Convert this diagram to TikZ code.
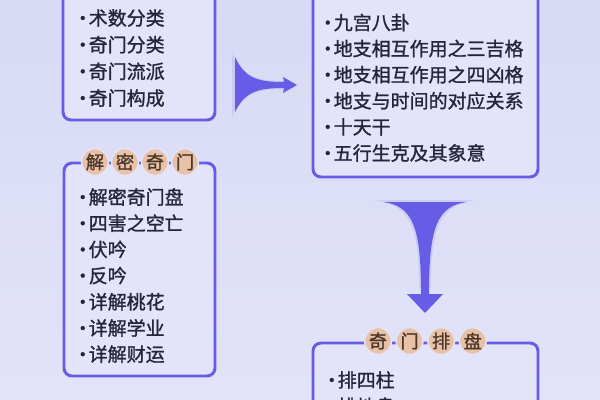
\documentclass[tikz,border=0pt]{standalone}
\usepackage{fontspec}
\setmainfont{Noto Sans CJK SC}
\newfontfamily\entryfont{Noto Sans CJK SC}[FakeBold=1.2]
\usetikzlibrary{positioning, calc}
\definecolor{bgtop}{HTML}{D8DAF6}
\definecolor{bgbot}{HTML}{E2E3F8}
\definecolor{boxfill}{HTML}{E3E4FA}
\definecolor{edgecol}{HTML}{665CE6}
\definecolor{beadcol}{HTML}{E8C2A8}
\definecolor{inkcol}{HTML}{25243A}
\definecolor{beadink}{HTML}{4B3628}
\newcommand{\dotitem}[1]{·\kern-2.5pt#1}
\tikzset{
  panel/.style={draw=edgecol, line width=2.1pt, fill=boxfill, rounded corners=2mm},
  entry/.style={anchor=west, inner sep=0pt, text=inkcol, font=\entryfont\fontsize{13.5}{16}\selectfont},
  bead/.style={circle, fill=beadcol, draw=boxfill, line width=1pt, minimum size=6.7mm,
    inner sep=0pt, text=beadink, font=\entryfont\fontsize{13}{15}\selectfont},
  funnel/.style={fill=edgecol, draw=none},
  haze/.style={fill=edgecol!45, draw=none, opacity=.45}
}

\begin{document}
\begin{tikzpicture}[x=0.25mm, y=-0.25mm]
    \useasboundingbox (0,0) rectangle (600,400);
    \shade[top color=bgtop, bottom color=bgbot] (0,0) rectangle (600,400);
    \begin{scope}
    \clip (0,0) rectangle (600,400);

    % top left panel
    \draw[panel] (63,-20) rectangle (215,120);
    \foreach \txt [count=\i] in {术数分类,奇门分类,奇门流派,奇门构成}
        \node[entry] (shu-\i) at (73, {18+26.7*(\i-1)}) {\dotitem{\txt}};

    % top right panel
    \draw[panel] (313,-20) rectangle (538,177);
    \foreach \txt [count=\i] in {九宫八卦,地支相互作用之三吉格,地支相互作用之四凶格,
        地支与时间的对应关系,十天干,五行生克及其象意}
        \node[entry] (gong-\i) at (318, {22.5+26.1*(\i-1)}) {\dotitem{\txt}};

    % bottom left panel
    \draw[panel] (64,163) rectangle (215,376);
    \foreach \ch [count=\i] in {解,密,奇,门}
        \node[bead] (jm-\i) at ({95+30*(\i-1)}, 162) {\ch};
    \foreach \txt [count=\i] in {解密奇门盘,四害之空亡,伏吟,反吟,详解桃花,详解学业,详解财运}
        \node[entry] (jie-\i) at (73, {197+26.2*(\i-1)}) {\dotitem{\txt}};

    % bottom right panel
    \draw[panel] (313,343) rectangle (538,440);
    \foreach \ch [count=\i] in {奇,门,排,盘}
        \node[bead] (pp-\i) at ({378+31.6*(\i-1)}, 341) {\ch};
    \foreach \txt [count=\i] in {排四柱,排地盘}
        \node[entry] (pai-\i) at (322, {380+26.2*(\i-1)}) {\dotitem{\txt}};

    % funnel arrows
    \coordinate (rgt) at (235,85);
    \coordinate (dwn) at (425,202);
    \fill[haze] ($(rgt)+(-3,-32)$) .. controls ($(rgt)+(8,-8)$) and ($(rgt)+(22,-4)$) .. ($(rgt)+(50,-4)$)
        -- ($(rgt)+(50,4)$) .. controls ($(rgt)+(22,4)$) and ($(rgt)+(8,8)$) .. ($(rgt)+(-3,32)$) -- cycle;
    \fill[funnel] ($(rgt)+(0,-28)$) .. controls ($(rgt)+(10,-7)$) and ($(rgt)+(22,-3)$) .. ($(rgt)+(49,-3)$)
        -- ($(rgt)+(48,-8)$) -- ($(rgt)+(62,0)$) -- ($(rgt)+(48,8)$) -- ($(rgt)+(49,3)$)
        .. controls ($(rgt)+(22,3)$) and ($(rgt)+(10,7)$) .. ($(rgt)+(0,27)$) -- cycle;
    \fill[haze] ($(dwn)+(-52,-2)$) .. controls ($(dwn)+(-15,2)$) and ($(dwn)+(-6,25)$) .. ($(dwn)+(-6,85)$)
        -- ($(dwn)+(6,85)$) .. controls ($(dwn)+(6,25)$) and ($(dwn)+(15,2)$) .. ($(dwn)+(52,-2)$) -- cycle;
    \fill[funnel] ($(dwn)+(-42,0)$) .. controls ($(dwn)+(-12,4)$) and ($(dwn)+(-4,25)$) .. ($(dwn)+(-4,92)$)
        -- ($(dwn)+(-18,92)$) -- ($(dwn)+(0,111)$) -- ($(dwn)+(18,92)$) -- ($(dwn)+(4,92)$)
        .. controls ($(dwn)+(4,25)$) and ($(dwn)+(12,4)$) .. ($(dwn)+(42,0)$) -- cycle;
    \end{scope}
\end{tikzpicture}
\end{document}
